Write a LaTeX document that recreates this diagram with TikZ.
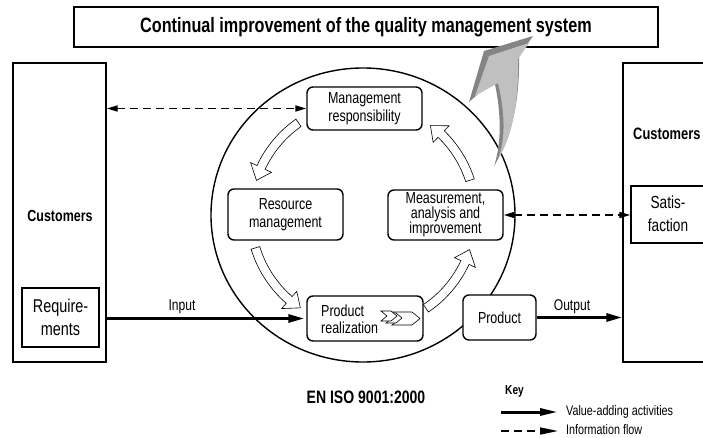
\documentclass[tikz,border=0pt]{standalone}
\usepackage{fontspec}
\setmainfont{Liberation Sans}[FakeStretch=0.78]
\usetikzlibrary{calc,arrows.meta,shapes.geometric}
\definecolor{greylight}{RGB}{192,192,192}
\definecolor{greydark}{RGB}{132,132,132}
% hollow arc arrow around the process loop: #1 = tail angle, #2 = tip angle
\newcommand\cyclearrow[2]{%
  \pgfmathsetmacro\headbase{#2-7}%
  \draw[cyc] ($(cc)+(#1:117)$) arc[start angle=#1,end angle=\headbase,radius=117]
    -- ($(cc)+(\headbase:124)$) -- ($(cc)+(#2:112)$) -- ($(cc)+(\headbase:101)$)
    -- ($(cc)+(\headbase:108)$) arc[start angle=\headbase,end angle=#1,radius=108] -- cycle;}
% one chevron of the process icon: lower-left corner x, y, length, height, point depth
\newcommand\chevron[5]{%
  \draw[fill=white,line width=0.6pt,line join=miter] (#1,#2) -- ++(#3,0) -- ++(#5,#4/2) -- ++(-#5,#4/2)
    -- ++(-#3,0) -- ++(#5,-#4/2) -- cycle;}
\begin{document}
\begin{tikzpicture}[x=1pt,y=1pt,
  box/.style={draw,line width=1.4pt,rounded corners=6pt,fill=white,align=center,inner sep=0pt,
    font=\fontsize{16}{18}\selectfont},
  sqbox/.style={draw,line width=1.4pt,inner sep=0pt,fill=white},
  lbl/.style={inner sep=0pt,font=\fontsize{15.5}{18}\selectfont},
  flow/.style={line width=3pt,-{Triangle[length=16pt,width=8pt]}},
  keyflow/.style={line width=3pt,-{Triangle[length=18pt,width=7pt]}},
  info/.style={line width=1.8pt,dash pattern=on 8pt off 5pt},
  infoboth/.style={info,{Triangle[length=11pt,width=6pt]}-{Triangle[length=11pt,width=6pt]}},
  cyc/.style={draw,line width=0.6pt,fill=white},
]
\useasboundingbox (0,0) rectangle (703,-438);
\clip (0,0) rectangle (703,-438);

% customers on both sides
\node[sqbox,minimum width=93pt,minimum height=299pt] (custL) at (59.5,-212.5) {};
\node[inner sep=0pt,font=\bfseries\fontsize{16}{19}\selectfont] (custLtxt) at (60,-216) {Customers};
\node[sqbox,align=center,minimum width=77pt,minimum height=59pt,font=\fontsize{18.5}{23}\selectfont]
  (req) at (60.5,-317.5) {Require-\\ments};
\node[sqbox,minimum width=120pt,minimum height=299pt] (custR) at (683,-212.5) {};
\node[inner sep=0pt,anchor=west,font=\bfseries\fontsize{16.5}{19}\selectfont] (custRtxt) at (633,-134) {Customers};
\node[sqbox,minimum width=110pt,minimum height=57pt] (sat) at (686,-214.5) {};
\node[inner sep=0pt,align=center,font=\fontsize{17.5}{23}\selectfont] (sattxt) at (668,-214) {Satis-\\faction};

% the process loop
\coordinate (cc) at (363,-215);
\node[draw,ellipse,line width=1.4pt,minimum width=304pt,minimum height=294pt,inner sep=0pt] (loop) at (cc) {};

\cyclearrow{125}{162}
\cyclearrow{197}{236}
\cyclearrow{304}{342}
\cyclearrow{18}{53}

\node[box,minimum width=115pt,minimum height=43pt] (mgmt) at (364.5,-108.5) {Management\\responsibility};
\node[box,minimum width=115pt,minimum height=51pt] (res) at (285.5,-214.5) {Resource\\management};
\node[box,minimum width=115pt,minimum height=50pt,font=\fontsize{16}{15}\selectfont] (meas) at (445.5,-215)
  {Measurement,\\analysis and\\improvement};
\node[box,minimum width=116pt,minimum height=45pt] (real) at (365,-318.5) {};
\node[lbl,anchor=west,align=left,font=\fontsize{16}{17}\selectfont] (realtxt) at (321,-319) {Product\\realization};
\node[box,minimum width=73pt,minimum height=45pt] (prod) at (499.5,-317.5) {Product};

% process icon
\chevron{392}{-325}{20}{13}{8}
\chevron{386}{-323}{10}{10}{6}
\chevron{381}{-321}{10}{10}{6}

% connectors
\draw[infoboth] (mgmt.west -| custL.east) -- (mgmt.west);
\draw[infoboth] (meas.east) -- (meas.east -| sat.west);
\draw[flow] (real.west -| custL.east) -- ([xshift=-2pt]real.west);
\draw[flow] (prod.east) -- (prod.east -| custR.west);
\node[lbl] (inlbl) at (182,-307) {Input};
\node[lbl] (outlbl) at (572,-307) {Output};

% banner
\node[draw,line width=1.4pt,fill=white,minimum width=584pt,minimum height=40pt,inner sep=0pt,
  font=\bfseries\fontsize{20.8}{24}\selectfont] (banner) at (366,-27)
  {Continual improvement of the quality management system};

% improvement arrow rising to the banner
\fill[greydark] (494,-166) .. controls (510,-140) and (520,-105) .. (519,-56) -- (533,-36) -- (484,-51)
  -- (469,-102) -- (494,-80) .. controls (500,-105) and (503,-140) .. (494,-166) -- cycle;
\fill[greylight] (497,-161) .. controls (511,-140) and (519,-105) .. (518,-59) -- (529,-43) -- (489,-56)
  -- (475,-96) -- (498,-83) .. controls (504,-108) and (507,-140) .. (497,-161) -- cycle;

% standard reference and key
\node[inner sep=0pt,font=\bfseries\fontsize{18}{20}\selectfont] (std) at (366,-397) {EN ISO 9001:2000};
\node[inner sep=0pt,anchor=west,font=\bfseries\fontsize{13}{15}\selectfont] (key) at (505,-391) {Key};
\coordinate (k1a) at (501,-412);
\coordinate (k1b) at (558,-412);
\coordinate (k2a) at (501,-431);
\coordinate (k2b) at (558,-431);
\draw[keyflow] (k1a) -- (k1b);
\draw[info,line width=1.6pt,-{Triangle[length=18pt,width=7pt]}] (k2a) -- (k2b);
\node[inner sep=0pt,anchor=west,font=\fontsize{13.8}{15}\selectfont] (k1) at (566,-412) {Value-adding activities};
\node[inner sep=0pt,anchor=west,font=\fontsize{13.8}{15}\selectfont] (k2) at (566,-430) {Information flow};
\end{tikzpicture}
\end{document}
